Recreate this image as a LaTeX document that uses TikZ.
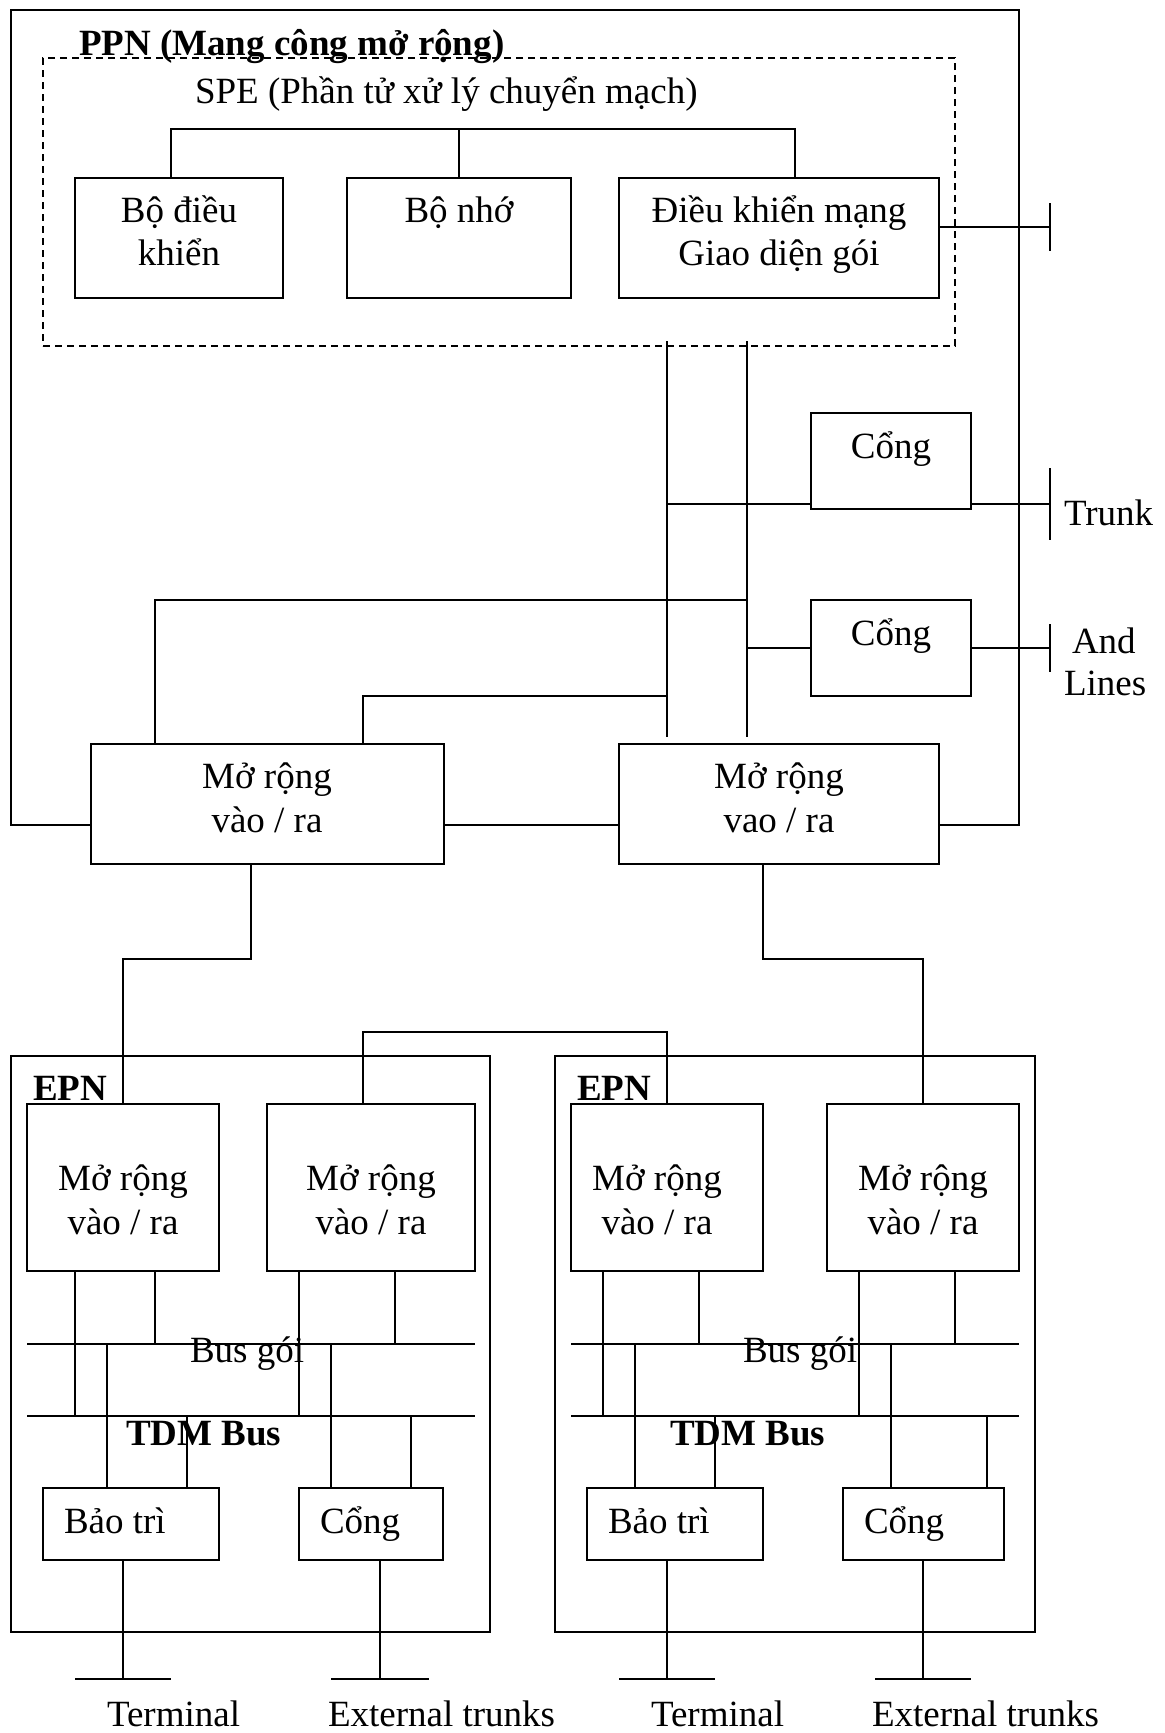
\documentclass[tikz,border=0pt]{standalone}
\usepackage{fontspec}
\setmainfont{Liberation Serif}
\begin{document}
\begin{tikzpicture}[x=1pt,y=-1pt,line width=2pt,
  box/.style={draw,rectangle,inner sep=0pt,outer sep=0pt,line width=2pt},
  txt/.style={inner sep=0pt,outer sep=0pt,font=\fontsize{37}{44}\selectfont,anchor=base},
  ltxt/.style={txt,anchor=base west},
  btxt/.style={txt,anchor=base west,font=\fontsize{37}{44}\selectfont\bfseries},
  dashbox/.style={draw,rectangle,inner sep=0pt,outer sep=0pt,line width=1.8pt,dash pattern=on 7pt off 5pt}]
\useasboundingbox (0,0) rectangle (1165,1733);

% ---------- PPN ----------
\node[dashbox,minimum width=912,minimum height=288] (spe) at (499,202) {};
\node[btxt] (tppn) at (79,55) {PPN (Mang công mở rộng)};
\node[ltxt] (tspe) at (195,103) {SPE (Phần tử xử lý chuyển mạch)};

\node[box,minimum width=208,minimum height=120] (ctrl) at (179,238) {};
\node[box,minimum width=224,minimum height=120] (mem) at (459,238) {};
\node[box,minimum width=320,minimum height=120] (net) at (779,238) {};
\node[txt] (tctrl1) at (179,222) {Bộ điều};
\node[txt] (tctrl2) at (179,265) {khiển};
\node[txt] (tmem) at (459,222) {Bộ nhớ};
\node[txt] (tnet1) at (779,222) {Điều khiển mạng};
\node[txt] (tnet2) at (779,265) {Giao diện gói};

\node[box,minimum width=160,minimum height=96] (cong1) at (891,461) {};
\node[box,minimum width=160,minimum height=96] (cong2) at (891,648) {};
\node[txt] (tcong1) at (891,458) {Cổng};
\node[txt] (tcong2) at (891,645) {Cổng};
\node[ltxt] (ttrunk) at (1064,525) {Trunk};
\node[ltxt] (tand) at (1072,653) {And};
\node[ltxt] (tlines) at (1064,695) {Lines};

\node[box,minimum width=353,minimum height=120] (m1) at (267.5,804) {};
\node[box,minimum width=320,minimum height=120] (m2) at (779,804) {};
\node[txt] (tm11) at (267,788) {Mở rộng};
\node[txt] (tm12) at (267,832) {vào / ra};
\node[txt] (tm21) at (779,788) {Mở rộng};
\node[txt] (tm22) at (779,832) {vao / ra};

\coordinate (tk1) at (1050,227);
\coordinate (tk2) at (1050,504);
\coordinate (tk3) at (1050,648);

% tree in SPE
\draw (171,0 |- ctrl.north) -- (171,129) -- (795,129) -- (795,0 |- net.north);
\draw (mem.north) -- (mem.north |- 0,129);
\draw (net.east |- tk1) -- (tk1);
\draw ([yshift=24pt]tk1) -- ([yshift=-24pt]tk1);

% verticals from SPE
\draw[shorten >=7pt] (667,341) -- (667,0 |- m2.north);
\draw[shorten >=7pt] (747,341) -- (747,0 |- m2.north);

% gates
\draw (667,504) -- (cong1.west |- tk2);
\draw (cong1.east |- tk2) -- (tk2);
\draw ([yshift=36pt]tk2) -- ([yshift=-36pt]tk2);
\draw (747,648) -- (cong2.west);
\draw (cong2.east) -- (tk3);
\draw ([yshift=24pt]tk3) -- ([yshift=-24pt]tk3);

% links to m1
\draw (155,0 |- m1.north) -- (155,600) -- (747,600);
\draw (363,0 |- m1.north) -- (363,696) -- (667,696);

% outer PPN frame
\draw (m1.west |- 0,825) -- (11,825) -- (11,10) -- (1019,10) -- (1019,825) -- (m2.east |- 0,825);
\draw (m1.east |- 0,825) -- (m2.west |- 0,825);

% ---------- EPN left ----------
\node[box,minimum width=479,minimum height=576] (epn1) at (250.5,1344) {};
\node[btxt] (tepn1) at (33,1100) {EPN};
\node[box,minimum width=192,minimum height=167] (a1) at (123,1187.5) {};
\node[box,minimum width=208,minimum height=167] (b1) at (371,1187.5) {};
\node[txt] (ta11) at (123,1190) {Mở rộng};
\node[txt] (ta12) at (123,1234) {vào / ra};
\node[txt] (tb11) at (371,1190) {Mở rộng};
\node[txt] (tb12) at (371,1234) {vào / ra};
\node[box,minimum width=176,minimum height=72] (bt1) at (131,1524) {};
\node[box,minimum width=144,minimum height=72] (cg1) at (371,1524) {};
\node[ltxt] (tbt1) at (64,1533) {Bảo trì};
\node[ltxt] (tcg1) at (320,1533) {Cổng};
\node[ltxt] (tbus1) at (190,1362) {Bus gói};
\node[btxt] (ttdm1) at (126,1445) {TDM Bus};
\node[ltxt] (tterm1) at (107,1726) {Terminal};
\node[ltxt] (text1) at (328,1726) {External trunks};

\coordinate (pk1w) at (27,1344);  \coordinate (pk1e) at (475,1344);
\coordinate (td1w) at (27,1416);  \coordinate (td1e) at (475,1416);
\draw (pk1w) -- (pk1e);
\draw (td1w) -- (td1e);
\draw (75,0 |- a1.south) -- (75,0 |- td1w);
\draw (155,0 |- a1.south) -- (155,0 |- pk1w);
\draw (299,0 |- b1.south) -- (299,0 |- td1w);
\draw (395,0 |- b1.south) -- (395,0 |- pk1w);
\draw (107,0 |- pk1w) -- (107,0 |- bt1.north);
\draw (187,0 |- td1w) -- (187,0 |- bt1.north);
\draw (331,0 |- pk1w) -- (331,0 |- cg1.north);
\draw (411,0 |- td1w) -- (411,0 |- cg1.north);
\coordinate (term1) at (123,1679);
\coordinate (ext1) at (380,1679);
\draw (123,0 |- bt1.south) -- (term1);
\draw ([xshift=-48pt]term1) -- ([xshift=48pt]term1);
\draw (380,0 |- cg1.south) -- (ext1);
\draw ([xshift=-49pt]ext1) -- ([xshift=49pt]ext1);

% ---------- EPN right ----------
\node[box,minimum width=480,minimum height=576] (epn2) at (795,1344) {};
\node[btxt] (tepn2) at (577,1100) {EPN};
\node[box,minimum width=192,minimum height=167] (a2) at (667,1187.5) {};
\node[box,minimum width=192,minimum height=167] (b2) at (923,1187.5) {};
\node[txt] (ta21) at (657,1190) {Mở rộng};
\node[txt] (ta22) at (657,1234) {vào / ra};
\node[txt] (tb21) at (923,1190) {Mở rộng};
\node[txt] (tb22) at (923,1234) {vào / ra};
\node[box,minimum width=176,minimum height=72] (bt2) at (675,1524) {};
\node[box,minimum width=161,minimum height=72] (cg2) at (923.5,1524) {};
\node[ltxt] (tbt2) at (608,1533) {Bảo trì};
\node[ltxt] (tcg2) at (864,1533) {Cổng};
\node[ltxt] (tbus2) at (743,1362) {Bus gói};
\node[btxt] (ttdm2) at (670,1445) {TDM Bus};
\node[ltxt] (tterm2) at (651,1726) {Terminal};
\node[ltxt] (text2) at (872,1726) {External trunks};

\coordinate (pk2w) at (571,1344);  \coordinate (pk2e) at (1019,1344);
\coordinate (td2w) at (571,1416);  \coordinate (td2e) at (1019,1416);
\draw (pk2w) -- (pk2e);
\draw (td2w) -- (td2e);
\draw (603,0 |- a2.south) -- (603,0 |- td2w);
\draw (699,0 |- a2.south) -- (699,0 |- pk2w);
\draw (859,0 |- b2.south) -- (859,0 |- td2w);
\draw (955,0 |- b2.south) -- (955,0 |- pk2w);
\draw (635,0 |- pk2w) -- (635,0 |- bt2.north);
\draw (715,0 |- td2w) -- (715,0 |- bt2.north);
\draw (891,0 |- pk2w) -- (891,0 |- cg2.north);
\draw (987,0 |- td2w) -- (987,0 |- cg2.north);
\coordinate (term2) at (667,1679);
\coordinate (ext2) at (923,1679);
\draw (667,0 |- bt2.south) -- (term2);
\draw ([xshift=-48pt]term2) -- ([xshift=48pt]term2);
\draw (923,0 |- cg2.south) -- (ext2);
\draw ([xshift=-48pt]ext2) -- ([xshift=48pt]ext2);

% ---------- links PPN -> EPN ----------
\draw (251,0 |- m1.south) -- (251,959) -- (123,959) -- (a1.north);
\draw (763,0 |- m2.south) -- (763,959) -- (923,959) -- (b2.north);
\draw (363,0 |- b1.north) -- (363,1032) -- (667,1032) -- (a2.north);
\end{tikzpicture}
\end{document}
